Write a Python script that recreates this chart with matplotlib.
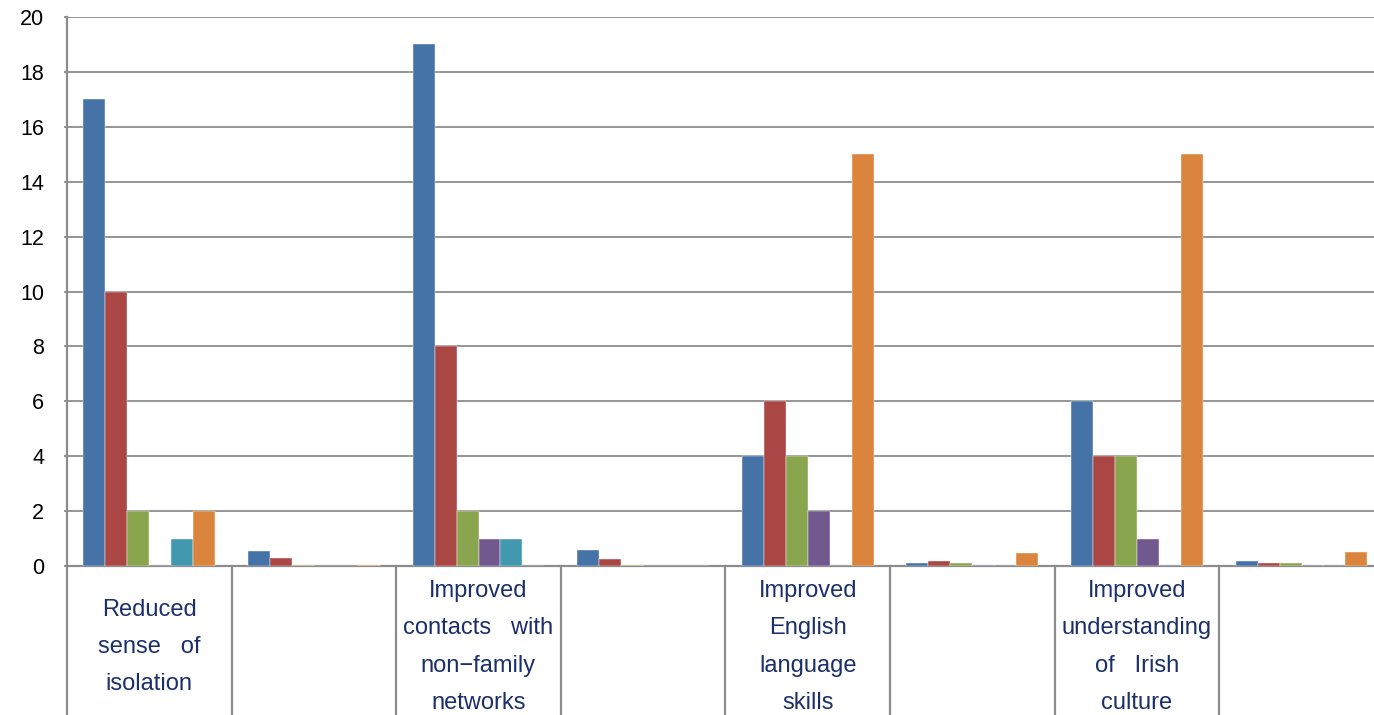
import numpy as np
import matplotlib
matplotlib.use("Agg")
import matplotlib.pyplot as plt

plt.rcParams['font.family'] = ['Liberation Sans', 'DejaVu Sans']

# categories (every second one has no label in the original)
labels = [
    ["Reduced", "sense   of", "isolation"],
    [],
    ["Improved", "contacts   with", "non\u2212family", "networks"],
    [],
    ["Improved", "English", "language", "skills"],
    [],
    ["Improved", "understanding", "of   Irish", "culture"],
    [],
]

s1 = [17, 0.54, 19, 0.6, 4, 0.12, 6, 0.18]
s2 = [10, 0.30, 8, 0.24, 6, 0.18, 4, 0.12]
s3 = [2, 0.03, 2, 0.03, 4, 0.12, 4, 0.12]
s4 = [0, 0.0, 1, 0.01, 2, 0.04, 1, 0.02]
s5 = [1, 0.0, 1, 0.01, 0, 0.0, 0, 0.0]
s6 = [2, 0.03, 0, 0.0, 15, 0.47, 15, 0.5]

series = [s1, s2, s3, s4, s5, s6]
colors = ['#4572A7', '#AA4643', '#89A54E', '#71588F', '#4198AF', '#DB843D']

W, H = 1374, 715
fig = plt.figure(figsize=(W / 100, H / 100), dpi=100)
left, right, top, bottom = 67, 67 + 8 * 164.6, 17, 566
ax = fig.add_axes([left / W, (H - bottom) / H, (right - left) / W, (bottom - top) / H])

n = len(labels)
x = np.arange(n)
bw = 0.8 / len(series)
for i, (vals, c) in enumerate(zip(series, colors)):
    ax.bar(x - 0.4 + bw * (i + 0.5), vals, width=bw, color=c, zorder=3,
           edgecolor='white', linewidth=0.3)

ax.set_xlim(-0.5, n - 0.5)
ax.set_ylim(0, 20)
ax.set_yticks(np.arange(0, 21, 2))
ax.set_xticks([])
ax.grid(axis='y', color='#8c8c8c', linewidth=1.3, zorder=0)
ax.tick_params(axis='y', length=2.5, width=1.3, color='#8c8c8c', labelsize=15.5, pad=14)

for sp in ['top', 'right']:
    ax.spines[sp].set_visible(False)
for sp in ['left', 'bottom']:
    ax.spines[sp].set_color('#8c8c8c')
    ax.spines[sp].set_linewidth(1.6)

# category boxes below the axis
trans = ax.get_xaxis_transform()
ah = bottom - top
for k in range(n + 1):
    ax.plot([k - 0.5, k - 0.5], [0, -(H - bottom) / ah], transform=trans,
            color='#8c8c8c', linewidth=1.6, clip_on=False)

# wrapped labels
yc, ls = 647, 37.5
for k, lines in enumerate(labels):
    m = len(lines)
    for j, t in enumerate(lines):
        ypix = yc + (j - (m - 1) / 2) * ls
        ax.text(k, -(ypix - bottom) / ah, t, transform=trans, ha='center', va='center',
                fontsize=17, color='#1B2F6B')

fig.savefig('out.png', dpi=100)
